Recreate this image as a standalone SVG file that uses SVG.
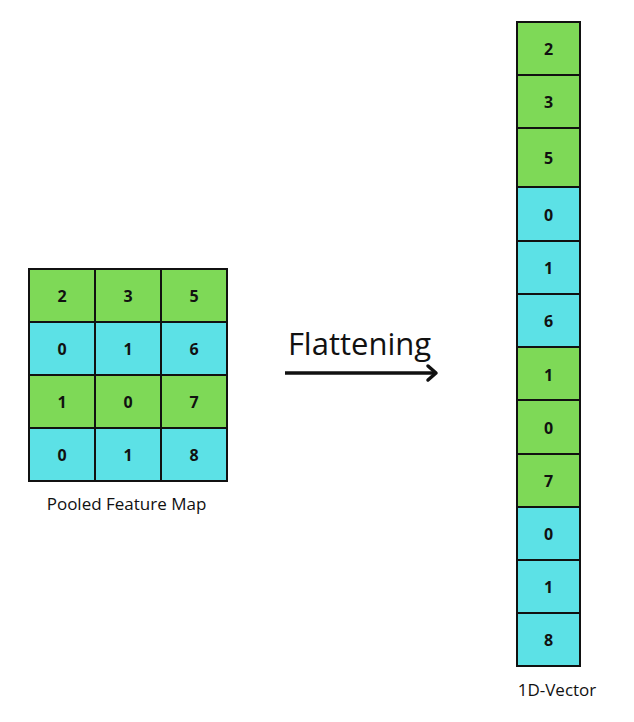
<svg xmlns="http://www.w3.org/2000/svg" width="634" height="722" viewBox="0 0 634 722">
<style>
.g{fill:#7ed957;stroke:#111;stroke-width:2}
.c{fill:#5ce1e6;stroke:#111;stroke-width:2}
.n{font-family:"Open Sans","Liberation Sans",sans-serif;font-weight:bold;font-size:16px;fill:#111;text-anchor:middle;dominant-baseline:central}
.l{font-family:"Open Sans","Liberation Sans",sans-serif;font-size:17px;fill:#111;text-anchor:middle}
</style>
<rect width="634" height="722" fill="#fff"/>
<g id="pooled-map">
<rect class="g" x="29" y="269" width="66" height="53"/><text class="n" x="62" y="296">2</text>
<rect class="g" x="95" y="269" width="66" height="53"/><text class="n" x="128" y="296">3</text>
<rect class="g" x="161" y="269" width="66" height="53"/><text class="n" x="194" y="296">5</text>
<rect class="c" x="29" y="322" width="66" height="53"/><text class="n" x="62" y="349">0</text>
<rect class="c" x="95" y="322" width="66" height="53"/><text class="n" x="128" y="349">1</text>
<rect class="c" x="161" y="322" width="66" height="53"/><text class="n" x="194" y="349">6</text>
<rect class="g" x="29" y="375" width="66" height="53"/><text class="n" x="62" y="402">1</text>
<rect class="g" x="95" y="375" width="66" height="53"/><text class="n" x="128" y="402">0</text>
<rect class="g" x="161" y="375" width="66" height="53"/><text class="n" x="194" y="402">7</text>
<rect class="c" x="29" y="428" width="66" height="53"/><text class="n" x="62" y="455">0</text>
<rect class="c" x="95" y="428" width="66" height="53"/><text class="n" x="128" y="455">1</text>
<rect class="c" x="161" y="428" width="66" height="53"/><text class="n" x="194" y="455">8</text>
<text class="l" x="126.5" y="510">Pooled Feature Map</text>
</g>
<g id="vector">
<rect class="g" x="517" y="22" width="63" height="53"/><text class="n" x="548.5" y="49">2</text>
<rect class="g" x="517" y="75" width="63" height="53"/><text class="n" x="548.5" y="102">3</text>
<rect class="g" x="517" y="128" width="63" height="59"/><text class="n" x="548.5" y="158">5</text>
<rect class="c" x="517" y="187" width="63" height="54"/><text class="n" x="548.5" y="215">0</text>
<rect class="c" x="517" y="241" width="63" height="53"/><text class="n" x="548.5" y="268">1</text>
<rect class="c" x="517" y="294" width="63" height="53"/><text class="n" x="548.5" y="321">6</text>
<rect class="g" x="517" y="347" width="63" height="53"/><text class="n" x="548.5" y="375">1</text>
<rect class="g" x="517" y="400" width="63" height="54"/><text class="n" x="548.5" y="428">0</text>
<rect class="g" x="517" y="454" width="63" height="53"/><text class="n" x="548.5" y="481">7</text>
<rect class="c" x="517" y="507" width="63" height="53"/><text class="n" x="548.5" y="534">0</text>
<rect class="c" x="517" y="560" width="63" height="53"/><text class="n" x="548.5" y="587">1</text>
<rect class="c" x="517" y="613" width="63" height="53"/><text class="n" x="548.5" y="640">8</text>
<text class="l" x="557" y="696">1D-Vector</text>
</g>
<g id="connectors">
<text x="359.5" y="355" font-family="'Open Sans','Liberation Sans',sans-serif" font-size="31" fill="#111" text-anchor="middle">Flattening</text>
<line x1="285" y1="373" x2="434" y2="373" stroke="#111" stroke-width="3.5"/>
<polyline points="428,366 436,373 428,380" fill="none" stroke="#111" stroke-width="3.5" stroke-linecap="round" stroke-linejoin="round"/>
</g>
</svg>
